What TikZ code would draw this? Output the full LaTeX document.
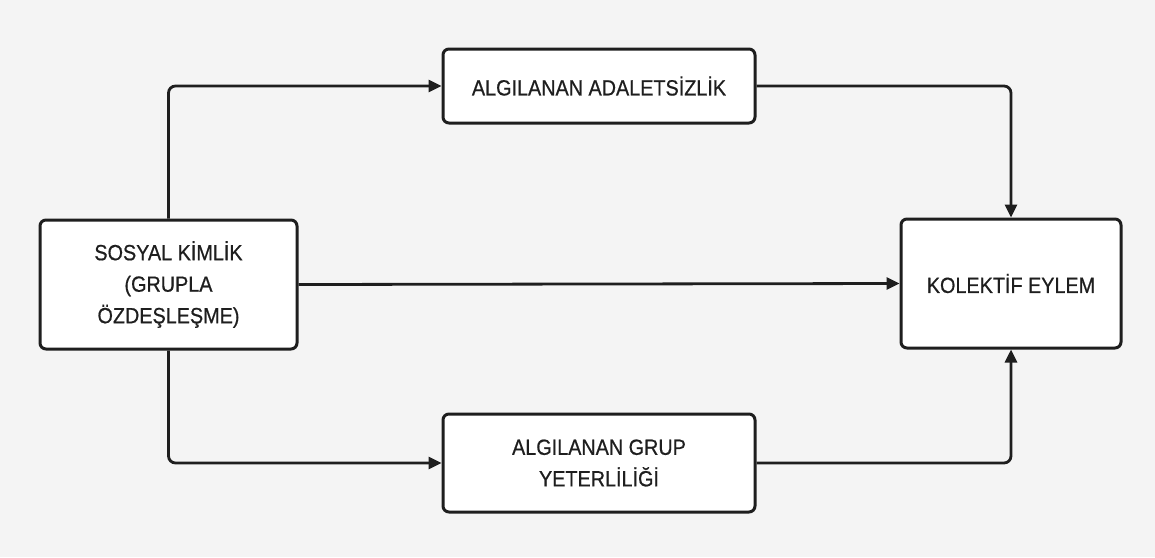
\documentclass[tikz,border=0pt]{standalone}
\usepackage{fontspec}
\setmainfont{Liberation Sans}[FakeStretch=0.9, FakeBold=0.6]
\usetikzlibrary{arrows.meta}
\definecolor{bg}{HTML}{F4F4F4}
\definecolor{ink}{HTML}{1E1E1E}
\tikzset{
  box/.style={draw=ink, fill=white, line width=3pt, rounded corners=6pt, align=center,
    text=ink, font=\fontsize{22}{31.5}\selectfont, inner sep=0pt},
  conn/.style={draw=ink, line width=2.8pt, rounded corners=7pt,
    -{Triangle[length=13pt,width=12pt]}},
}
\begin{document}
\begin{tikzpicture}[x=1pt,y=-1pt]
\fill[bg] (0,0) rectangle (1155,557);
\useasboundingbox (0,0) rectangle (1155,557);
\node[box, minimum width=257pt, minimum height=129pt] (sk) at (168.5,284.5) {SOSYAL KİMLİK\\(GRUPLA\\ÖZDEŞLEŞME)};
\node[box, minimum width=312pt, minimum height=74pt] (aa) at (599,86) {ALGILANAN ADALETSİZLİK};
\node[box, minimum width=312pt, minimum height=98pt] (ag) at (599,463) {ALGILANAN GRUP\\YETERLİLİĞİ};
\node[box, minimum width=220pt, minimum height=129pt] (ke) at (1011,283.5) {KOLEKTİF EYLEM};
\draw[conn] (sk.north) |- (aa.west);
\draw[conn] (aa.east) -| (ke.north);
\draw[conn] (sk.east) -- (ke.west);
\draw[conn] (sk.south) |- (ag.west);
\draw[conn] (ag.east) -| (ke.south);
\end{tikzpicture}
\end{document}
